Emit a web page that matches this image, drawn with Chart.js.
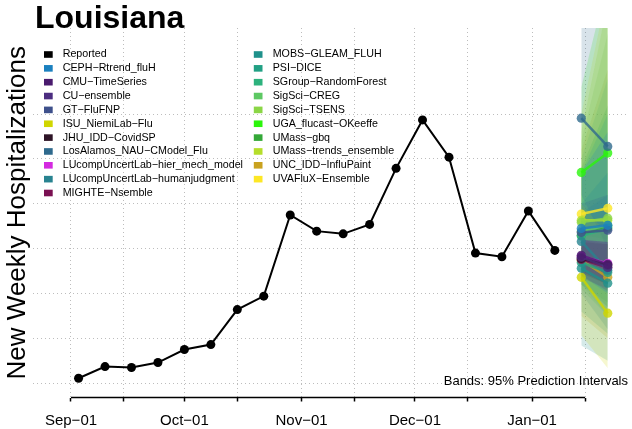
<!DOCTYPE html>
<html><head><meta charset="utf-8">
<script src="https://cdn.jsdelivr.net/npm/chart.js@4.4.0/dist/chart.umd.min.js"></script>
<style>html,body{margin:0;padding:0;background:#fff;}canvas{display:block;}</style>
</head><body>
<canvas id="c" width="632" height="429"></canvas>
<script>
const chartTitle = 'Louisiana';
const yTitle = 'New Weekly Hospitalizations';
const bandNote = 'Bands: 95% Prediction Intervals';

// x values are days since 2022-09-01
const reportedDays = [2, 9, 16, 23, 30, 37, 44, 51, 58, 65, 72, 79, 86, 93, 100, 107, 114, 121, 128];
const reportedValues = [11, 37, 35, 46, 75, 86, 164, 194, 375, 339, 333, 354, 479, 587, 504, 290, 282, 384, 296];
const forecastDays = [135, 142];

const xTickDays = [0, 14, 30, 44, 61, 75, 91, 105, 122, 136];
const xTickLabels = ['Sep\u221201', '', 'Oct\u221201', '', 'Nov\u221201', '', 'Dec\u221201', '', 'Jan\u221201', ''];
const yGridValues = [0, 100, 200, 300, 400, 500, 600];

const modelNames = [
  'CEPH\u2212Rtrend_fluH', 'CMU\u2212TimeSeries', 'CU\u2212ensemble', 'GT\u2212FluFNP',
  'ISU_NiemiLab\u2212Flu', 'JHU_IDD\u2212CovidSP', 'LosAlamos_NAU\u2212CModel_Flu',
  'LUcompUncertLab\u2212hier_mech_model', 'LUcompUncertLab\u2212humanjudgment', 'MIGHTE\u2212Nsemble',
  'MOBS\u2212GLEAM_FLUH', 'PSI\u2212DICE', 'SGroup\u2212RandomForest', 'SigSci\u2212CREG', 'SigSci\u2212TSENS',
  'UGA_flucast\u2212OKeeffe', 'UMass\u2212gbq', 'UMass\u2212trends_ensemble', 'UNC_IDD\u2212InfluPaint', 'UVAFluX\u2212Ensemble'
];
const modelColors = [
  '#1B80BF', '#4A1B6E', '#4C2D80', '#3E508B', '#D0D600', '#2E1426', '#2F6A8D',
  '#D42AE0', '#288390', '#7A1052', '#1F918B', '#21A084', '#2DB27D', '#5DC863', '#8BD646',
  '#2BF50B', '#34A838', '#B5DE2B', '#C9A21F', '#FDE725'
];
const pointJan14 = [345, 285, 281, 336, 236, 278, 591, 283, 316, 276, 256, 269, 328, 339, 359, 470, 330, 363, 274, 377];
const pointJan21 = [352, 265, 258, 341, 156, 263, 528, 267, 252, 258, 223, 247, 345, 352, 368, 513, 348, 363, 236, 390];
const lowerJan14 = [240, 250, 240, 280, 107, 245, 420, 250, 200, 235, 84, 160, 220, 210, 230, 330, 220, 220, 150, 260];
const upperJan14 = [470, 320, 320, 400, 400, 315, 900, 320, 460, 320, 380, 400, 470, 500, 540, 660, 480, 560, 520, 600];
const lowerJan21 = [200, 220, 205, 270, 33, 220, 300, 225, 120, 210, 50, 110, 170, 150, 170, 320, 180, 150, 100, 210];
const upperJan21 = [560, 315, 315, 420, 330, 310, 1150, 315, 520, 310, 420, 470, 600, 680, 780, 900, 620, 850, 700, 880];

function rgba(hex, a) {
  const n = parseInt(hex.slice(1), 16);
  return `rgba(${(n >> 16) & 255},${(n >> 8) & 255},${n & 255},${a})`;
}

const datasets = [];
datasets.push({
  label: 'Reported',
  data: reportedDays.map((d, i) => ({x: d, y: reportedValues[i]})),
  borderColor: '#000', backgroundColor: '#000', borderWidth: 2,
  pointRadius: 4.5, pointBorderWidth: 0, order: 0
});
modelNames.forEach((name, i) => {
  datasets.push({
    label: name,
    data: [{x: forecastDays[0], y: pointJan14[i]}, {x: forecastDays[1], y: pointJan21[i]}],
    borderColor: rgba(modelColors[i], 0.8), backgroundColor: rgba(modelColors[i], 0.8),
    borderWidth: 2.5, pointRadius: 4.6, pointBorderWidth: 0, order: 1
  });
});
modelNames.forEach((name, i) => {
  datasets.push({
    label: name + ' lower',
    data: [{x: forecastDays[0], y: lowerJan14[i]}, {x: forecastDays[1], y: lowerJan21[i]}],
    borderWidth: 0, pointRadius: 0, fill: false, order: 2
  });
  datasets.push({
    label: name + ' upper',
    data: [{x: forecastDays[0], y: upperJan14[i]}, {x: forecastDays[1], y: upperJan21[i]}],
    borderWidth: 0, pointRadius: 0, fill: '-1', backgroundColor: rgba(modelColors[i], 0.19), order: 2
  });
});

const annotPlugin = {
  id: 'annot',
  afterDraw(chart) {
    const ctx = chart.ctx;
    const xs = chart.scales.x;
    const area = chart.chartArea;
    ctx.save();
    // partial x axis line (R style: first tick to last tick)
    ctx.beginPath();
    ctx.moveTo(xs.getPixelForValue(xTickDays[0]), area.bottom);
    ctx.lineTo(xs.getPixelForValue(xTickDays[xTickDays.length - 1]), area.bottom);
    ctx.lineWidth = 1.5; ctx.strokeStyle = '#000'; ctx.stroke();
    // title
    ctx.fillStyle = '#000';
    ctx.font = 'bold 32px "Liberation Sans", Arial, sans-serif';
    ctx.textAlign = 'left'; ctx.textBaseline = 'alphabetic';
    ctx.fillText(chartTitle, 35, 28);
    // legend
    const entries = [{name: 'Reported', color: '#000'}].concat(modelNames.map((n, i) => ({name: n, color: modelColors[i]})));
    ctx.font = '10.7px "Liberation Sans", Arial, sans-serif';
    ctx.textBaseline = 'middle';
    entries.forEach((e, i) => {
      const col = i < 11 ? 0 : 1;
      const row = col ? i - 11 : i;
      const sx = col ? 253.8 : 44;
      const tx = col ? 272.7 : 62.7;
      const cy = 54.5 + row * 13.85;
      ctx.fillStyle = e.color;
      ctx.fillRect(sx, cy - 3.3, 8.7, 6.6);
      ctx.fillStyle = '#000';
      ctx.fillText(e.name, tx, cy);
    });
    // band note
    ctx.font = '13px "Liberation Sans", Arial, sans-serif';
    ctx.textAlign = 'right';
    ctx.fillText(bandNote, 628, 381);
    ctx.restore();
  }
};

new Chart(document.getElementById('c'), {
  type: 'line',
  data: {datasets},
  options: {
    responsive: false, animation: false, devicePixelRatio: 1,
    layout: {padding: {top: 28, left: 0, right: 0, bottom: -10.5}},
    plugins: {legend: {display: false}, tooltip: {enabled: false}, title: {display: false}},
    elements: {line: {tension: 0}},
    scales: {
      x: {
        type: 'linear', min: -10, max: 147.2,
        afterBuildTicks: s => { s.ticks = xTickDays.map(v => ({value: v})); },
        ticks: {
          autoSkip: false, maxRotation: 0, minRotation: 0, padding: 10, color: '#000',
          font: {family: '"Liberation Sans", Arial, sans-serif', size: 15},
          callback: v => { const i = xTickDays.indexOf(v); return i >= 0 ? xTickLabels[i] : ''; }
        },
        grid: {color: '#bdbdbd', lineWidth: 1, drawTicks: true, tickLength: 4, tickColor: '#000', tickWidth: 1.5, tickBorderDash: []},
        border: {display: false, dash: [1, 3]}
      },
      y: {
        type: 'linear', min: -32, max: 792,
        afterBuildTicks: s => { s.ticks = yGridValues.map(v => ({value: v})); },
        ticks: {display: false},
        grid: {color: '#bdbdbd', lineWidth: 1, drawTicks: false},
        border: {display: false, dash: [1, 3]},
        title: {
          display: true, text: yTitle, color: '#000',
          font: {family: '"Liberation Sans", Arial, sans-serif', size: 26},
          padding: {top: 2, bottom: 0}
        }
      }
    }
  },
  plugins: [annotPlugin]
});
</script>
</body></html>
